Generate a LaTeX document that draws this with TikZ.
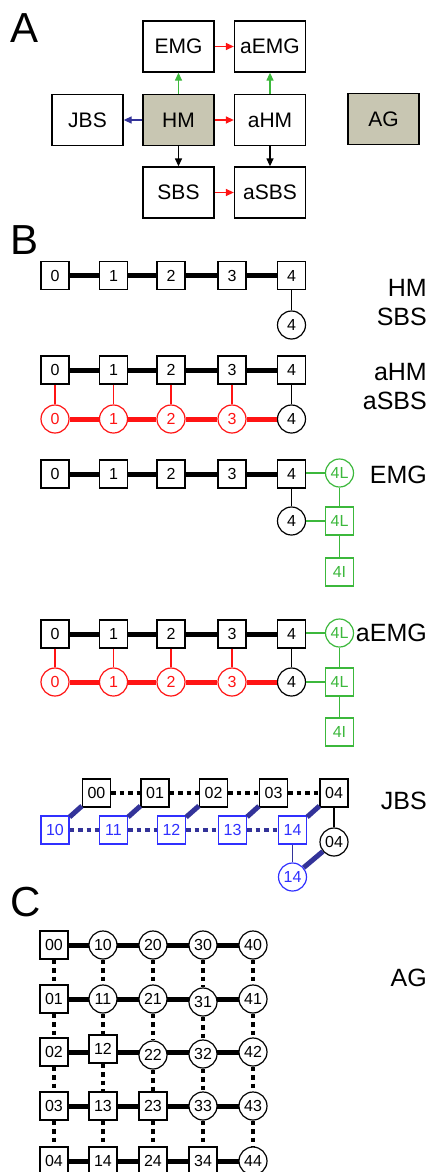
\documentclass[tikz,border=0pt]{standalone}
\usepackage{fontspec}
\setmainfont{Liberation Sans}
\usetikzlibrary{arrows.meta,backgrounds}

\definecolor{boxgray}{HTML}{C8C6B2}
\definecolor{rred}{HTML}{FF1414}
\definecolor{ggreen}{HTML}{3CB83C}
\definecolor{bblue}{HTML}{3030FF}
\definecolor{navy}{HTML}{333399}

\begin{document}
\begin{tikzpicture}[x=1pt,y=-1pt,
  panel/.style={font=\fontsize{42}{42}\selectfont, anchor=west, inner sep=0},
  modelbox/.style={draw, line width=1.3pt, minimum width=71pt, minimum height=51pt,
    inner sep=0, font=\fontsize{21}{21}\selectfont},
  link/.style={line width=1.3pt, -{Triangle[length=8pt,width=7pt]}},
  site/.style={draw, line width=1.2pt, fill=white, minimum size=28pt, inner sep=0,
    font=\fontsize{16}{16}\selectfont},
  ring/.style={circle, draw, line width=1.2pt, fill=white, minimum size=28pt, inner sep=0,
    font=\fontsize{16}{16}\selectfont},
  bond/.style={line width=5pt},
  weak/.style={line width=1.2pt},
  dotbond/.style={line width=4.5pt, dash pattern=on 4.5pt off 4pt},
  tag/.style={anchor=east, inner sep=0, font=\fontsize{25}{25}\selectfont},
]
\useasboundingbox (0,0) rectangle (432,1172);

% ---------------- A: relations between the models ----------------
\node[panel] (pA) at (10,28) {A};
\node[modelbox] (EMG)  at (178.5,46.5) {EMG};
\node[modelbox] (aEMG) at (270,46.5) {aEMG};
\node[modelbox] (JBS)  at (87.5,120) {JBS};
\node[modelbox, fill=boxgray] (HM) at (178.5,120) {HM};
\node[modelbox] (aHM)  at (270,120) {aHM};
\node[modelbox, fill=boxgray] (AG) at (383.5,119) {AG};
\node[modelbox] (SBS)  at (178.5,192.5) {SBS};
\node[modelbox] (aSBS) at (270,192.5) {aSBS};

\draw[link, rred]   (EMG) -- (aEMG);
\draw[link, ggreen] (HM) -- (EMG);
\draw[link, ggreen] (aHM) -- (aEMG);
\draw[link, navy]   (HM) -- (JBS);
\draw[link, rred]   (HM) -- (aHM);
\draw[link, black]  (HM) -- (SBS);
\draw[link, black]  (aHM) -- (aSBS);
\draw[link, rred]   (SBS) -- (aSBS);

% ---------------- B: chain geometries ----------------
\node[panel] (pB) at (10,240) {B};

% HM / SBS
\foreach \k/\x in {0/55,1/113.5,2/171,3/232,4/291.5}
  \node[site] (h\k) at (\x,275.5) {\k};
\node[ring] (hc4) at (291.5,325) {4};
\foreach \a/\b in {0/1,1/2,2/3,3/4} \draw[bond] (h\a) -- (h\b);
\draw[weak] (h4) -- (hc4);
\node[tag] (tHM) at (427,288) {HM};
\node[tag] (tSBS) at (427,317) {SBS};

% aHM / aSBS
\foreach \k/\x in {0/55,1/113.5,2/171,3/232,4/291.5}
  \node[site] (ah\k) at (\x,370) {\k};
\foreach \k/\x in {0/55,1/113.5,2/171,3/232}
  \node[ring, draw=rred, text=rred] (ac\k) at (\x,419) {\k};
\node[ring] (ac4) at (291.5,419) {4};
\foreach \a/\b in {0/1,1/2,2/3,3/4} \draw[bond] (ah\a) -- (ah\b);
\foreach \a/\b in {0/1,1/2,2/3,3/4} \draw[bond, rred] (ac\a) -- (ac\b);
\foreach \k in {0,1,2,3} \draw[weak, rred] (ah\k) -- (ac\k);
\draw[weak] (ah4) -- (ac4);
\node[tag] (taHM) at (427,372) {aHM};
\node[tag] (taSBS) at (427,401) {aSBS};

% EMG
\foreach \k/\x in {0/55,1/113.5,2/171,3/232,4/291.5}
  \node[site] (e\k) at (\x,474) {\k};
\node[ring] (ec4) at (291.5,521) {4};
\node[ring, draw=ggreen, text=ggreen] (eL) at (339.5,473) {4L};
\node[site, draw=ggreen, text=ggreen] (eLs) at (339.5,521) {4L};
\node[site, draw=ggreen, text=ggreen] (eI) at (339.5,572) {4I};
\foreach \a/\b in {0/1,1/2,2/3,3/4} \draw[bond] (e\a) -- (e\b);
\draw[weak] (e4) -- (ec4);
\draw[weak, ggreen] (e4.east |- eL) -- (eL);
\draw[weak, ggreen] (ec4) -- (eLs);
\draw[weak, ggreen] (eL) -- (eLs);
\draw[weak, ggreen] (eLs) -- (eI);
\node[tag] (tEMG) at (427,475) {EMG};

% aEMG
\foreach \k/\x in {0/55,1/113.5,2/171,3/232,4/291.5}
  \node[site] (ae\k) at (\x,634) {\k};
\foreach \k/\x in {0/55,1/113.5,2/171,3/232}
  \node[ring, draw=rred, text=rred] (aec\k) at (\x,682) {\k};
\node[ring] (aec4) at (291.5,682) {4};
\node[ring, draw=ggreen, text=ggreen] (aeL) at (339.5,633) {4L};
\node[site, draw=ggreen, text=ggreen] (aeLs) at (339.5,682) {4L};
\node[site, draw=ggreen, text=ggreen] (aeI) at (339.5,732) {4I};
\foreach \a/\b in {0/1,1/2,2/3,3/4} \draw[bond] (ae\a) -- (ae\b);
\foreach \a/\b in {0/1,1/2,2/3,3/4} \draw[bond, rred] (aec\a) -- (aec\b);
\foreach \k in {0,1,2,3} \draw[weak, rred] (ae\k) -- (aec\k);
\draw[weak] (ae4) -- (aec4);
\draw[weak, ggreen] (ae4.east |- aeL) -- (aeL);
\draw[weak, ggreen] (aec4) -- (aeLs);
\draw[weak, ggreen] (aeL) -- (aeLs);
\draw[weak, ggreen] (aeLs) -- (aeI);
\node[tag] (taEMG) at (427,633) {aEMG};

% JBS: two coupled chains
\foreach \k/\x in {0/96.5,1/155,2/213.5,3/273.5,4/334}
  \node[site] (j0\k) at (\x,793) {0\k};
\foreach \k/\x in {0/55,1/113.5,2/171.5,3/232.5,4/292.5}
  \node[site, draw=bblue, text=bblue] (j1\k) at (\x,830) {1\k};
\node[ring] (jc04) at (334,842) {04};
\node[ring, draw=bblue, text=bblue] (jc14) at (292.5,877) {14};
\foreach \a/\b in {0/1,1/2,2/3,3/4} \draw[dotbond] (j0\a) -- (j0\b);
\foreach \a/\b in {0/1,1/2,2/3,3/4} \draw[dotbond, navy] (j1\a) -- (j1\b);
\foreach \k in {0,1,2,3,4} \draw[bond, navy] (j1\k) -- (j0\k);
\draw[weak] (j04) -- (jc04);
\draw[weak, navy] (j14) -- (jc14);
\draw[bond, navy] (jc14) -- (jc04);
\node[tag] (tJBS) at (427,801) {JBS};

% ---------------- C: ladder grid ----------------
\node[panel] (pC) at (10,902) {C};
% row reference points (the bonds of a row stay level)
\foreach \j/\y in {0/945,1/999,2/1052,3/1106,4/1161}
  \coordinate (row\j) at (0,\y);
\foreach \i/\x in {0/54,1/103,2/153,3/203,4/253}{
  \foreach \j in {0,...,4}{
    \pgfmathsetmacro{\dy}{(\i==1 && \j==2) ? -3 : ((\i==2 && \j==2) ? 3 : ((\i==3 && \j==2) ? 2 : ((\i==3 && \j==1) ? 3 : 0)))}
    \pgfmathtruncatemacro{\sq}{(\i<\j) || (\i+\j==0) ? 1 : 0}
    \ifnum\sq=1
      \node[site] (g\i\j) at ([yshift=-\dy pt]\x,0 |- row\j) {\i\j};
    \else
      \node[ring] (g\i\j) at ([yshift=-\dy pt]\x,0 |- row\j) {\i\j};
    \fi
  }
}
% solid bonds along each row, behind the sites
\begin{pgfonlayer}{background}
\foreach \j in {0,...,4}
  \foreach \a/\b in {0/1,1/2,2/3,3/4}
    \draw[bond] (g\a\j.center |- row\j) -- (g\b\j.center |- row\j);
\end{pgfonlayer}
% dotted bonds along each column
\foreach \i in {0,...,4}
  \foreach \a/\b in {0/1,1/2,2/3,3/4}
    \draw[dotbond] (g\i\a) -- (g\i\b);
\node[tag] (tAG) at (427,978) {AG};
\end{tikzpicture}
\end{document}
